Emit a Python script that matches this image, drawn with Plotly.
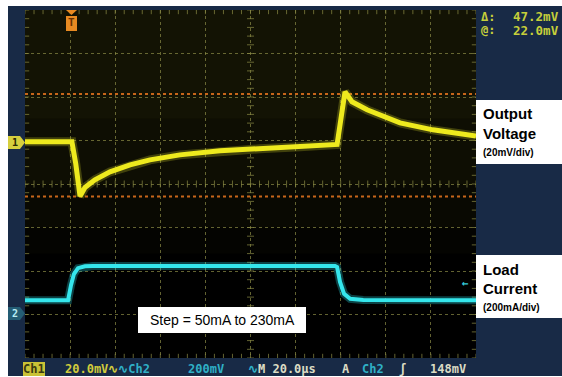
import plotly.graph_objects as go

# ---------------- data ----------------
# time axis: 20 us/div, 10 divisions
ch1_time_us = [0, 20.8, 22.5, 24.4, 26.6, 31.0, 37.7, 46.6, 55.4, 68.7, 86.5,
               104.3, 122.0, 137.5, 138.4, 141.9, 145.0, 151.7, 166.3, 180.9, 200]
ch1_mv = [0, 0, -10, -25.0, -21.0, -17.5, -13.8, -10.6, -8.3, -6.0, -4.1,
          -3.2, -2.3, -1.4, -1.2, 23.0, 18.4, 14.7, 8.7, 5.5, 2.6]

ch2_time_us = [0, 19.1, 20.4, 21.7, 23.5, 26.6, 30, 137.5, 138.4, 139.7, 141.5, 144.2, 150, 200]
ch2_ma = [66, 66, 135, 186, 213, 222, 223, 223, 218, 150, 95, 72, 67, 66]

ch1_scale_mv_per_div = 20
ch2_scale_ma_per_div = 200
ch1_offset_div = 0.97
ch2_offset_div = -3.0
cursor_at_mv = 22.0
cursor_delta_mv = 47.2

YEL, CYA, WHT = "#d2cc3c", "#2fb0c6", "#dcdcc4"
status_items = [  # (list of (text, colour), x_px)
    ([("20.0mV", YEL), ("∿", YEL), ("∿", CYA), ("Ch2", CYA)], 63),
    ([("200mV", CYA)], 186),
    ([("∿", CYA), ("M 20.0µs", WHT)], 246),
    ([("A", WHT)], 340),
    ([("Ch2", CYA)], 360),
    ([("ʃ", WHT)], 397),
    ([("148mV", WHT)], 428),
]

# ---------------- geometry helpers (pixel -> paper) ----------------
W, H = 562, 377
L, R, T, B = 25, 86, 10, 19
PW, PH = W - L - R, H - T - B


def px(x):
    return (x - L) / PW


def py(y):
    return (H - B - y) / PH


ch1_y = [ch1_offset_div + v / ch1_scale_mv_per_div for v in ch1_mv]
ch2_y = [ch2_offset_div + v / ch2_scale_ma_per_div for v in ch2_ma]

fig = go.Figure()

grid_col = "rgba(140,140,70,0.7)"

# tick marks along centre lines and border
tx = [i * 4 for i in range(51)]
ty = [-4 + i * 0.2 for i in range(41)]
for yy in (0, 4, -4):
    fig.add_trace(go.Scatter(x=tx, y=[yy] * len(tx), mode="markers",
                             marker=dict(symbol="line-ns", size=5 if yy == 0 else 6,
                                         line=dict(color=grid_col, width=1)),
                             hoverinfo="skip", showlegend=False))
for xx in (100, 0, 200):
    fig.add_trace(go.Scatter(x=[xx] * len(ty), y=ty, mode="markers",
                             marker=dict(symbol="line-ew", size=5 if xx == 100 else 6,
                                         line=dict(color=grid_col, width=1)),
                             hoverinfo="skip", showlegend=False))

# cursor lines
up = ch1_offset_div + cursor_at_mv / ch1_scale_mv_per_div
lo = ch1_offset_div + (cursor_at_mv - cursor_delta_mv) / ch1_scale_mv_per_div
for yy in (up, lo):
    fig.add_trace(go.Scatter(x=[0, 200], y=[yy, yy], mode="lines",
                             line=dict(color="#c8661a", width=2, dash="dot"),
                             hoverinfo="skip", showlegend=False))

# channel 1 glow + trace
fig.add_trace(go.Scatter(x=ch1_time_us, y=ch1_y, mode="lines",
                         line=dict(color="rgba(220,220,40,0.25)", width=9),
                         hoverinfo="skip", showlegend=False))
fig.add_trace(go.Scatter(x=ch1_time_us, y=ch1_y, mode="lines",
                         line=dict(color="#eeea1e", width=5),
                         name="Ch1", showlegend=False))
# channel 2
fig.add_trace(go.Scatter(x=ch2_time_us, y=ch2_y, mode="lines",
                         line=dict(color="rgba(40,220,230,0.3)", width=8),
                         hoverinfo="skip", showlegend=False))
fig.add_trace(go.Scatter(x=ch2_time_us, y=ch2_y, mode="lines",
                         line=dict(color="#35e6ec", width=4),
                         name="Ch2", showlegend=False))

shapes = []
navy = "#182a46"
# navy frame behind everything
shapes.append(dict(type="rect", xref="paper", yref="paper", layer="below",
                   x0=px(8), x1=px(562), y0=py(376), y1=py(6),
                   fillcolor=navy, line=dict(width=0)))
# black screen area
shapes.append(dict(type="rect", xref="paper", yref="paper", layer="below",
                   x0=0, x1=1, y0=0, y1=1,
                   fillcolor="black", line=dict(width=0)))
# faint persistence haze in the upper part, fading downwards
for y0, y1, a in ((1.5, 4, 0.24), (0.0, 1.5, 0.18), (-1.0, 0.0, 0.11), (-1.6, -1.0, 0.05)):
    shapes.append(dict(type="rect", xref="x", yref="y", layer="below",
                       x0=0, x1=200, y0=y0, y1=y1,
                       fillcolor=f"rgba(80,80,15,{a})", line=dict(width=0)))
# white labels on the right
shapes.append(dict(type="rect", xref="paper", yref="paper",
                   x0=px(476), x1=px(562), y0=py(164), y1=py(100),
                   fillcolor="white", line=dict(width=0)))
shapes.append(dict(type="rect", xref="paper", yref="paper",
                   x0=px(476), x1=px(562), y0=py(318), y1=py(255),
                   fillcolor="white", line=dict(width=0)))
# step label box
shapes.append(dict(type="rect", xref="paper", yref="paper",
                   x0=px(138), x1=px(306), y0=py(333), y1=py(307),
                   fillcolor="white", line=dict(width=0)))
# Ch1 status box
shapes.append(dict(type="rect", xref="paper", yref="paper",
                   x0=px(23), x1=px(45), y0=py(376), y1=py(362),
                   fillcolor="#c9c236", line=dict(width=0)))


# channel markers on the left
def pent(y0, y1, x0=8, x1=25):
    ym = (y0 + y1) / 2
    return (f"M {px(x0)},{py(y0)} L {px(x1-5)},{py(y0)} L {px(x1)},{py(ym)} "
            f"L {px(x1-5)},{py(y1)} L {px(x0)},{py(y1)} Z")


shapes.append(dict(type="path", xref="paper", yref="paper", path=pent(136, 149),
                   fillcolor="#d6cf3e", line=dict(width=0)))
shapes.append(dict(type="path", xref="paper", yref="paper", path=pent(307, 320),
                   fillcolor="#245d74", line=dict(width=0)))
# trigger position marker (orange T)
shapes.append(dict(type="path", xref="paper", yref="paper",
                   path=f"M {px(66)},{py(10)} L {px(77)},{py(10)} L {px(71.5)},{py(15)} Z",
                   fillcolor="#e88a22", line=dict(width=0)))
shapes.append(dict(type="rect", xref="paper", yref="paper",
                   x0=px(66), x1=px(77), y0=py(31), y1=py(16),
                   fillcolor="#e88a22", line=dict(width=0)))

ann = []


def txt(s, x, y, size, color, family="Liberation Sans, Arial", anchor="left", bold=False):
    ann.append(dict(text=f"<b>{s}</b>" if bold else s, x=px(x), y=py(y),
                    xref="paper", yref="paper", showarrow=False,
                    xanchor=anchor, yanchor="middle",
                    font=dict(size=size, color=color, family=family)))


txt("Output", 481, 114, 15, "black", bold=True)
txt("Voltage", 481, 133, 15, "black", bold=True)
txt("(20mV/div)", 481, 152, 10, "black", bold=True)
txt("Load", 481, 269, 15, "black", bold=True)
txt("Current", 481, 288, 15, "black", bold=True)
txt("(200mA/div)", 481, 307, 10, "black", bold=True)
txt("Step = 50mA to 230mA", 222, 320, 14, "black", anchor="center")

mono = "DejaVu Sans Mono"
txt("Δ:", 479, 17, 12, "#c6cf3a", mono, bold=True)
txt("@:", 479, 30, 12, "#c6cf3a", mono, bold=True)
txt(f"{cursor_delta_mv:.1f}mV", 511, 17, 12.5, "#c6cf3a", mono, bold=True)
txt(f"{cursor_at_mv:.1f}mV", 511, 30, 12.5, "#c6cf3a", mono, bold=True)

txt("Ch1", 34, 369, 12, "#3a3a10", mono, anchor="center", bold=True)
for parts, x in status_items:
    s = "".join(f"<span style='color:{c}'>{t}</span>" for t, c in parts)
    txt(s, x, 369, 12, parts[0][1], mono, bold=True)

txt("1", 15, 142.5, 10, "#2a2a00", mono, anchor="center", bold=True)
txt("2", 15, 313.5, 10, "#b8ecf4", mono, anchor="center", bold=True)
txt("T", 71.5, 23, 11, "#6a3000", mono, anchor="center", bold=True)
txt("←", 465, 283, 11, "#35c8d8", mono, anchor="center", bold=True)

fig.update_layout(
    width=W, height=H,
    margin=dict(l=L, r=R, t=T, b=B, pad=0),
    paper_bgcolor="white",
    plot_bgcolor="black",
    shapes=shapes,
    annotations=ann,
    showlegend=False,
)
fig.update_xaxes(range=[0, 200], dtick=20, tick0=0, showgrid=True, gridcolor=grid_col,
                 griddash="dot", gridwidth=1, zeroline=False, showticklabels=False,
                 ticks="", showline=False, fixedrange=True)
fig.update_yaxes(range=[-4, 4], dtick=1, tick0=0, showgrid=True, gridcolor=grid_col,
                 griddash="dot", gridwidth=1, zeroline=False, showticklabels=False,
                 ticks="", showline=False, fixedrange=True)

fig.write_html("out.html", config={"displayModeBar": False},
               post_script="document.body.style.margin='0';document.body.style.overflow='hidden';")
